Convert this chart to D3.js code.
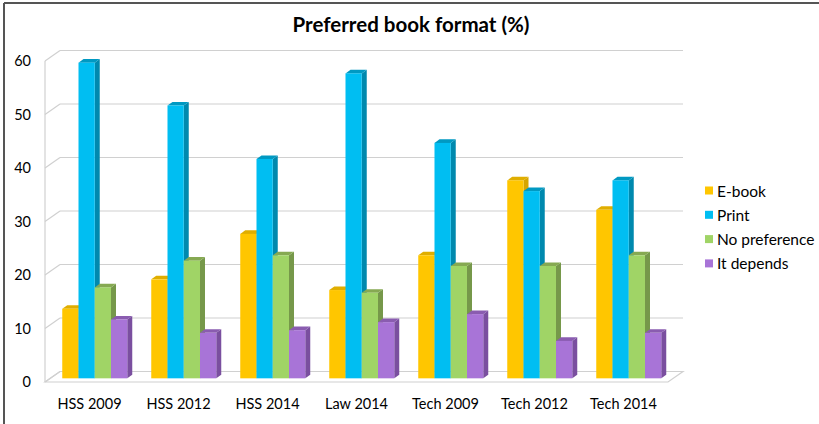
<!DOCTYPE html>
<html><head><meta charset="utf-8">
<script src="https://cdn.jsdelivr.net/npm/d3@7"></script>
<style>body{margin:0;background:#fff}svg{display:block}text{font-family:Lato,"Open Sans",sans-serif;fill:#000}</style>
</head><body><svg id="c" width="819" height="424"></svg>
<script>
const categories = ["HSS 2009","HSS 2012","HSS 2014","Law 2014","Tech 2009","Tech 2012","Tech 2014"];
const seriesNames = ["E-book","Print","No preference","It depends"];
const ebook = [13,18.5,27,16.5,23,37,31.5];
const print = [59,51,41,57,44,35,37];
const noPref = [17,22,23,16,21,21,23];
const itDepends = [11,8.5,9,10.5,12,7,8.5];
const yTicks = [0,10,20,30,40,50,60];
const title = "Preferred book format (%)";

const seriesValues = [ebook, print, noPref, itDepends];
const colors = [
  {front:"#FFC600", side:"#D6A500", top:"#E0AE00"},
  {front:"#00BEF2", side:"#0089AE", top:"#0099C2"},
  {front:"#A0D466", side:"#76984A", top:"#86A952"},
  {front:"#A874D7", side:"#7A4F9F", top:"#8A5CB0"}
];

const svg = d3.select("#c");
// frame
svg.append("line").attr("x1",4).attr("y1",3).attr("x2",819).attr("y2",3).attr("stroke","#555").attr("stroke-width",2);
svg.append("line").attr("x1",4).attr("y1",3).attr("x2",4).attr("y2",424).attr("stroke","#555").attr("stroke-width",2);

svg.append("text").attr("x",411).attr("y",32).attr("text-anchor","middle")
  .style("font-weight","bold").style("font-size","20.5px").text(title);

const left = 45, right = 668, DX = 15, DY = -10.5;
const y = d3.scaleLinear().domain([0,60]).range([382,61]);
const x0 = d3.scaleBand().domain(categories).range([left,right]);
const groupW = 65;
const x1 = d3.scaleBand().domain(seriesNames).range([0,groupW]);

const grid = svg.append("g").attr("stroke","#d0d0d0").attr("stroke-width",1.2).attr("fill","none");
yTicks.forEach(t => {
  grid.append("line").attr("x1",left+DX).attr("x2",right+DX).attr("y1",y(t)+DY).attr("y2",y(t)+DY);
  grid.append("line").attr("x1",left).attr("x2",left+DX).attr("y1",y(t)).attr("y2",y(t)+DY);
});
grid.append("line").attr("x1",left).attr("x2",left).attr("y1",y(0)).attr("y2",y(60));
grid.append("path").attr("d",`M${left},${y(0)}L${right},${y(0)}L${right+DX},${y(0)+DY}L${left+DX},${y(0)+DY}Z`);

svg.append("g").selectAll("text").data(yTicks).join("text")
  .attr("x",31).attr("y",t=>y(t)+5).attr("text-anchor","end").style("font-size","14.5px").text(t=>t);
svg.append("g").selectAll("text").data(categories).join("text")
  .attr("x",c=>x0(c)+x0.bandwidth()/2).attr("y",409).attr("text-anchor","middle").style("font-size","14.5px").text(c=>c);

const f = 0.35, fdx = DX*f, fdy = DY*f;
const sdx = 5, sdy = -3.6;
const bars = svg.append("g");
categories.forEach((c,ci) => {
  seriesNames.forEach((s,si) => {
    const v = seriesValues[si][ci];
    const bx = x0(c) + (x0.bandwidth()-groupW)/2 + x1(s) + fdx;
    const bw = x1.bandwidth();
    const by0 = y(0) + fdy, by1 = y(v) + fdy;
    const col = colors[si];
    bars.append("path").attr("fill",col.side)
      .attr("d",`M${bx+bw},${by1}L${bx+bw+sdx},${by1+sdy}L${bx+bw+sdx},${by0+sdy}L${bx+bw},${by0}Z`);
    bars.append("path").attr("fill",col.top)
      .attr("d",`M${bx},${by1}L${bx+sdx},${by1+sdy}L${bx+bw+sdx},${by1+sdy}L${bx+bw},${by1}Z`);
    bars.append("rect").attr("fill",col.front).attr("x",bx).attr("y",by1).attr("width",bw).attr("height",by0-by1);
  });
});

const lg = svg.append("g");
seriesNames.forEach((s,i) => {
  const ly = 191 + i*24.3;
  lg.append("rect").attr("x",705).attr("y",ly-4.5).attr("width",8).attr("height",8).attr("fill",colors[i].front);
  lg.append("text").attr("x",717).attr("y",ly+5.5).style("font-size","15.5px").text(s);
});
</script></body></html>
